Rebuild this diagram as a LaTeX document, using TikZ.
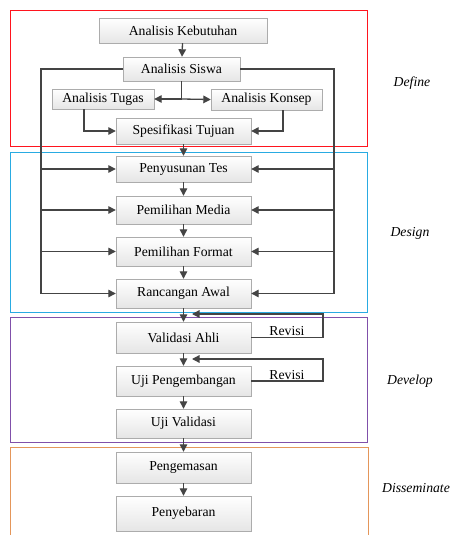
\documentclass[tikz,border=0pt]{standalone}
\usepackage{fontspec}
\setmainfont{Liberation Serif}
\usetikzlibrary{arrows.meta,shadows,calc}
\definecolor{lnc}{RGB}{68,68,68}
\definecolor{frblue}{RGB}{41,171,226}
\definecolor{frpurple}{RGB}{128,80,170}
\definecolor{frorange}{RGB}{228,150,90}
\definecolor{frred}{RGB}{255,20,30}
\begin{document}
\begin{tikzpicture}[x=1pt,y=-1pt,
  box/.style 2 args={draw=gray!65, top color=white, bottom color=gray!20,
    minimum width=#1, minimum height=#2, inner sep=0pt,
    font=\fontsize{13.7}{16}\selectfont,
    drop shadow={shadow xshift=1.2pt, shadow yshift=-1.2pt, opacity=0.25, fill=gray}},
  link/.style={draw=lnc, line width=1.3pt},
  arr/.style={link, -{Triangle[length=7.5pt,width=7.5pt]}},
  frame/.style={line width=1pt},
  phase/.style={font=\fontsize{13.7}{16}\selectfont\itshape},
  rev/.style={font=\fontsize{13.7}{16}\selectfont}]
\fill[white] (0,0) rectangle (451,535);
\useasboundingbox (0,0) rectangle (451,535);
\clip (0,0) rectangle (451,535);
% phase frames
\draw[frame, frred] (10,11) rectangle (367,146);
\draw[frame, frblue] (10,152) rectangle (367,312);
\draw[frame, frpurple] (10,317) rectangle (367,442);
\draw[frame, frorange] (10,447) rectangle (368,560);
% phase labels
\node[phase] (lbdef) at (412,83) {Define};
\node[phase] (lbdes) at (410,233) {Design};
\node[phase] (lbdev) at (410,381) {Develop};
\node[phase] (lbdis) at (416,488) {Disseminate};
% boxes
\node[box={168pt}{25pt}] (keb) at (183,30.5) {Analisis Kebutuhan};
\node[box={117pt}{24pt}] (sis) at (181.5,69) {Analisis Siswa};
\node[box={102pt}{20pt}] (tug) at (103,99) {Analisis Tugas};
\node[box={111pt}{21pt}] (kon) at (266.5,99.5) {Analisis Konsep};
\node[box={135pt}{26pt}] (spe) at (183.5,131) {Spesifikasi Tujuan};
\node[box={135pt}{26pt}] (pen) at (183.5,169) {Penyusunan Tes};
\node[box={135pt}{28pt}] (med) at (183.5,210) {Pemilihan Media};
\node[box={135pt}{29pt}] (for) at (183.5,251.5) {Pemilihan Format};
\node[box={135pt}{29pt}] (ran) at (183.5,293.5) {Rancangan Awal};
\node[box={135pt}{31pt}] (val) at (183.5,337.5) {Validasi Ahli};
\node[box={135pt}{30pt}] (ujp) at (183.5,381) {Uji Pengembangan};
\node[box={135pt}{29pt}] (ujv) at (183.5,423.5) {Uji Validasi};
\node[box={135pt}{31pt}] (kem) at (183.5,467.5) {Pengemasan};
\node[box={135pt}{35pt}] (seb) at (183.5,513.5) {Penyebaran};
% define connectors
\draw[arr] (keb) -- (sis);
\coordinate (br) at (181.5,99);
\draw[link] (sis.south) -- (br);
\draw[arr] (br) -- (tug.east);
\draw[arr] (br) -- (kon.west);
\draw[arr] ($(tug.south)+(-19,0)$) |- (spe.west);
\draw[arr] ($(kon.south)+(16.5,0)$) |- (spe.east);
\draw[arr] (spe) -- (pen);
% outer loops
\coordinate (lb) at (41,293.5);
\coordinate (rb) at (334,293.5);
\draw[arr] (sis.west) -| (lb) -- (ran.west);
\draw[arr] (sis.east) -| (rb) -- (ran.east);
\draw[arr] (pen.west -| lb) -- (pen.west);
\draw[arr] (med.west -| lb) -- (med.west);
\draw[arr] (for.west -| lb) -- (for.west);
\draw[arr] (pen.east -| rb) -- (pen.east);
\draw[arr] (med.east -| rb) -- (med.east);
\draw[arr] (for.east -| rb) -- (for.east);
% main column
\draw[arr] (pen) -- (med);
\draw[arr] (med) -- (for);
\draw[arr] (for) -- (ran);
\draw[arr] (ran) -- (val);
\draw[arr] (val) -- (ujp);
\draw[arr] (ujp) -- (ujv);
\draw[arr] (ujv) -- (kem);
\draw[arr] (kem) -- (seb);
% revisi loops
\coordinate (r1c) at (323,314);
\coordinate (r1) at (192,314);
\draw[arr] (val.east) -| (r1c) -- (r1);
\node[rev] (rv1) at (287,331) {Revisi};
\coordinate (r2c) at (323,359);
\coordinate (r2) at (192,359);
\draw[arr] (ujp.east) -| (r2c) -- (r2);
\node[rev] (rv2) at (287,375.5) {Revisi};
\end{tikzpicture}
\end{document}
